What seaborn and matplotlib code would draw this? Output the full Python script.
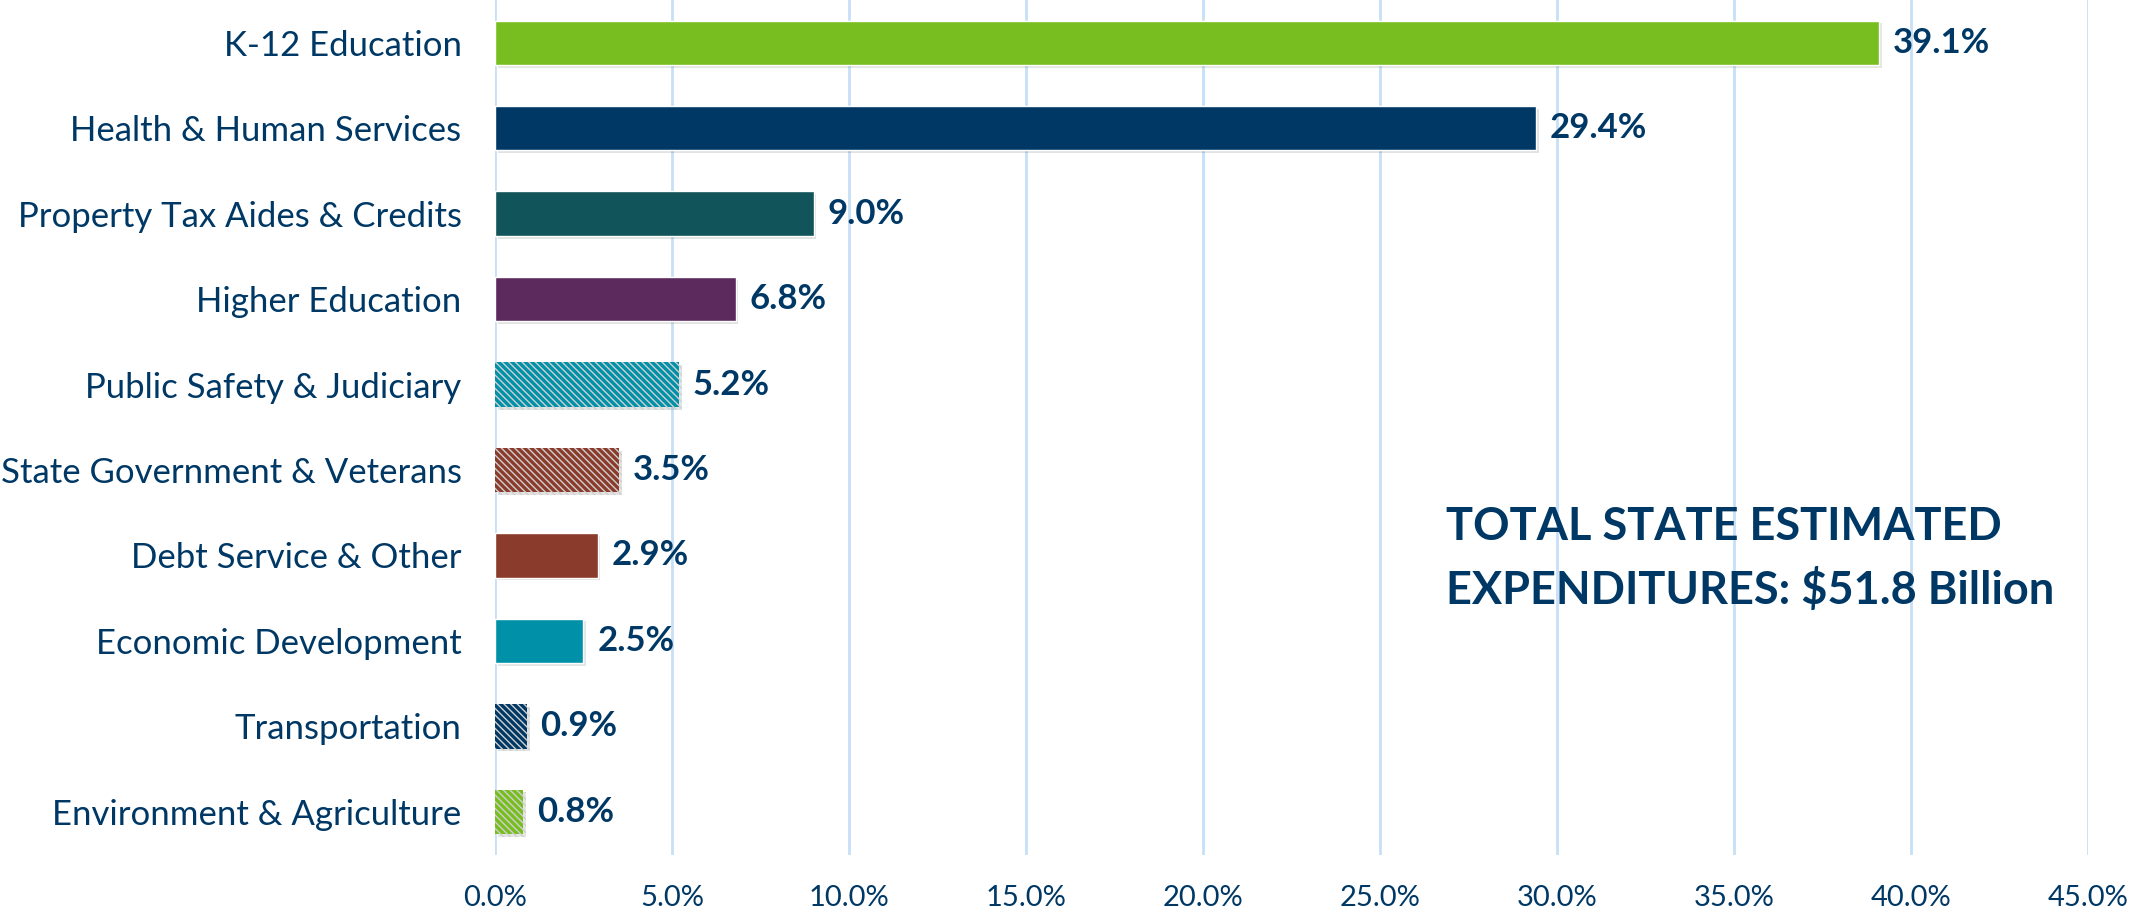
import matplotlib
matplotlib.use("Agg")
import matplotlib.pyplot as plt
import matplotlib.patheffects as pe
import seaborn as sns
import pandas as pd

# 지출 항목 / 비율(%)
categories = [
    "K-12 Education",
    "Health & Human Services",
    "Property Tax Aides & Credits",
    "Higher Education",
    "Public Safety & Judiciary",
    "State Government & Veterans",
    "Debt Service & Other",
    "Economic Development",
    "Transportation",
    "Environment & Agriculture",
]
shares = [39.1, 29.4, 9.0, 6.8, 5.2, 3.5, 2.9, 2.5, 0.9, 0.8]
bar_colors = ["#78be20", "#003865", "#115459", "#5c2a5d", "#0091a9",
              "#8a3b2b", "#8a3b2b", "#0091a9", "#003865", "#78be20"]
hatched = [False, False, False, False, True, True, False, False, True, True]
x_ticks = [0, 5, 10, 15, 20, 25, 30, 35, 40, 45]
note = "TOTAL STATE ESTIMATED\nEXPENDITURES: $51.8 Billion"

navy = "#003865"
df = pd.DataFrame({"category": categories, "share": shares})

sns.set_style("white")
plt.rcParams["font.family"] = ["Lato", "DejaVu Sans"]
plt.rcParams["hatch.linewidth"] = 1.0

fig = plt.figure(figsize=(21.33, 9.13), dpi=100)
ax = fig.add_axes([0.232, 0.064, 0.747, 0.936])

sns.barplot(data=df, y="category", x="share", hue="category",
            palette=bar_colors, saturation=1, orient="h", width=0.52,
            legend=False, ax=ax)

for patch, h in zip(ax.patches, hatched):
    patch.set_path_effects([pe.SimplePatchShadow(offset=(2, -2), alpha=0.12),
                            pe.Normal()])
    if h:
        patch.set_hatch("\\\\\\\\\\")
        patch.set_edgecolor("#d0d0d0")
        patch.set_linewidth(0)

for cont in ax.containers:
    ax.bar_label(cont, fmt="%.1f%%", padding=10, fontsize=25,
                 fontweight="bold", color=navy)

ax.set_xlim(0, 45)
ax.set_xticks(x_ticks)
ax.set_xticklabels([f"{t:.1f}%" for t in x_ticks])
ax.xaxis.grid(True, color="#c6e0f7", linewidth=2)
ax.set_axisbelow(True)
sns.despine(ax=ax, left=True, bottom=True)
ax.tick_params(axis="y", length=0, pad=24, labelsize=25, labelcolor=navy)
ax.tick_params(axis="x", length=0, pad=22, labelsize=21, labelcolor=navy)
ax.set_xlabel("")
ax.set_ylabel("")

ax.text(1446 / 2133, 0.388, note, transform=fig.transFigure,
        fontsize=32.5, fontweight="bold", color=navy, va="center",
        linespacing=1.55)

fig.savefig("out.png", dpi=100)
